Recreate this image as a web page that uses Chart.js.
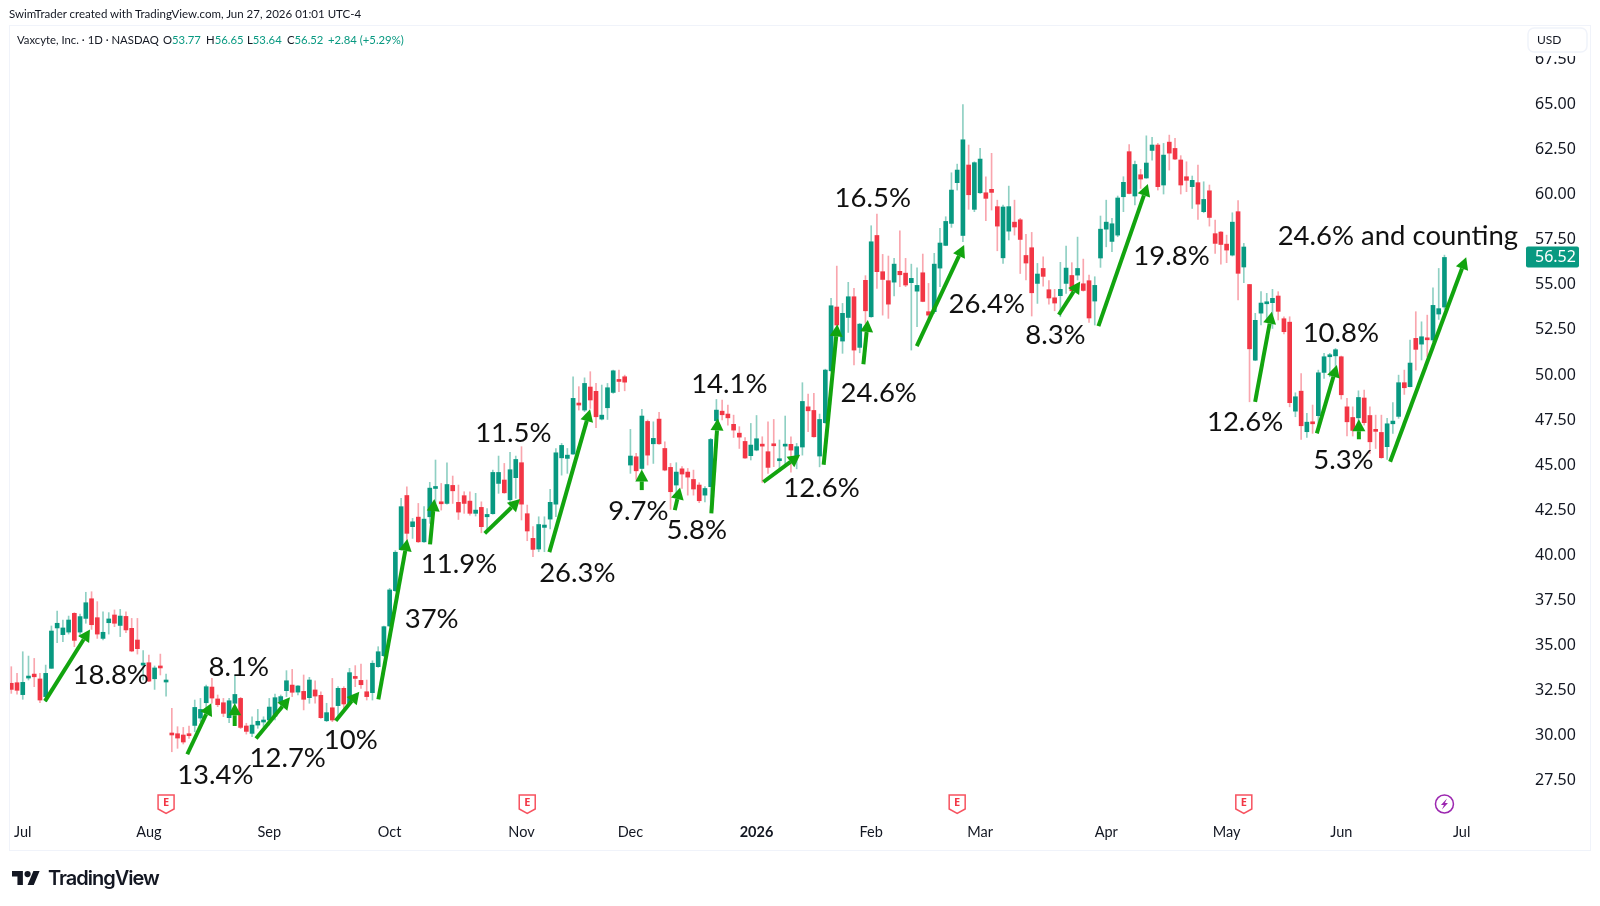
<!DOCTYPE html>
<html>
<head>
<meta charset="utf-8">
<title>Vaxcyte, Inc. daily</title>
<script src="https://cdn.jsdelivr.net/npm/chart.js@4"></script>
<style>
  html, body { margin: 0; padding: 0; background: #fff; }
  #wrap { position: relative; width: 1600px; height: 906px; overflow: hidden; }
  #priceChart { position: absolute; left: 0; top: 0; }
  .caption { position: absolute; left: 9px; top: 7px; font: 11.5px Lato, sans-serif; color: #131722; white-space: nowrap; }
  .legend { position: absolute; top: 33px; font: 11.3px Lato, sans-serif; color: #131722; white-space: nowrap; }
  .legend b { font-weight: 400; color: #089981; }
  .brand { position: absolute; left: 48px; top: 866px; font: 600 20px Inter, sans-serif; letter-spacing: -1px; color: #131722; }
  .brandLogo { position: absolute; left: 12px; top: 871px; }
</style>
</head>
<body>
<div id="wrap">
  <canvas id="priceChart" width="1600" height="906"></canvas>
  <div class="caption">SwimTrader created with TradingView.com, Jun 27, 2026 01:01 UTC-4</div>
  <div class="legend" style="left:17px">Vaxcyte, Inc. · 1D · NASDAQ</div>
  <div class="legend" style="left:163px">O<b>53.77</b></div>
  <div class="legend" style="left:206px">H<b>56.65</b></div>
  <div class="legend" style="left:247px">L<b>53.64</b></div>
  <div class="legend" style="left:287px">C<b>56.52</b></div>
  <div class="legend" style="left:328px"><b>+2.84 (+5.29%)</b></div>
  <svg class="brandLogo" width="28" height="14" viewBox="0 4 36 18"><path fill="#131722" d="M14 22H7V11H0V4h14v18zM28 22h-8l7.5-18h8L28 22z"/><circle fill="#131722" cx="20" cy="8" r="4"/></svg>
  <div class="brand">TradingView</div>
</div>
<script>
// daily candles, Jun 27 2025 - Jun 26 2026
const opens = [
  32.89,32.92,32.26,33.18,33.40,33.13,32.15,33.72,35.96,35.59,
  35.73,36.77,35.73,36.49,37.58,36.53,35.38,36.25,36.68,36.10,
  36.60,35.94,35.29,33.90,34.03,33.14,33.83,32.96,30.05,30.09,
  30.02,30.02,30.55,30.96,31.81,32.68,32.02,31.81,30.98,31.78,
  32.05,30.52,30.11,30.57,30.74,30.85,31.07,31.87,32.48,32.79,
  32.40,32.44,32.09,32.52,32.22,30.81,31.53,31.65,32.61,31.78,
  33.22,33.05,32.42,32.37,33.81,34.42,36.07,38.03,40.32,43.31,
  41.58,42.11,40.74,42.13,43.70,42.94,42.87,43.87,42.93,43.30,
  43.00,42.32,42.65,42.13,42.30,43.98,44.17,43.07,44.30,45.13,
  42.30,40.93,40.34,41.54,42.00,42.83,45.40,45.37,45.61,48.42,
  48.05,49.33,49.09,47.55,48.18,49.03,49.68,49.90,45.00,45.46,
  44.81,47.42,46.18,47.55,45.92,44.87,43.89,44.79,44.61,44.20,
  43.89,43.33,43.80,47.46,47.99,47.83,47.26,46.77,46.31,45.52,
  45.83,46.09,45.74,46.13,45.24,46.05,46.15,45.46,46.00,48.23,
  48.03,45.50,47.35,50.23,53.77,51.88,53.19,54.34,51.53,55.25,
  53.23,57.74,55.73,55.23,55.15,55.75,55.65,55.12,54.65,55.67,
  53.51,53.51,55.93,57.19,58.41,60.67,57.74,61.65,59.19,60.11,
  60.11,60.30,59.34,56.50,57.98,58.48,58.61,56.63,57.06,55.08,
  55.91,54.73,54.28,54.40,55.08,55.52,55.54,55.06,55.23,54.10,
  56.49,58.09,57.41,57.76,59.89,62.39,59.93,61.11,60.93,62.46,
  62.76,60.54,62.92,62.57,61.93,61.00,60.45,60.67,59.06,60.22,
  57.84,57.93,57.26,56.65,59.06,55.99,55.02,50.82,53.43,53.95,
  54.01,54.38,53.12,52.93,47.99,49.10,46.85,47.37,47.74,50.14,
  51.01,51.06,51.01,48.23,47.64,47.62,48.72,47.75,46.92,46.81,
  46.02,47.29,47.70,49.57,49.35,52.03,51.71,52.01,51.94,53.38,
  53.77
];
const highs = [
  33.81,33.44,34.64,34.40,34.27,33.44,33.90,36.07,36.90,36.40,
  36.62,36.81,36.73,37.94,37.97,37.42,36.86,36.81,36.96,36.99,
  36.86,36.49,36.49,34.70,34.46,33.85,34.51,33.40,31.50,30.48,
  30.44,30.52,31.96,32.05,32.79,33.16,32.24,32.05,32.05,33.35,
  32.11,30.67,31.03,31.44,31.03,32.05,32.29,32.24,33.59,33.66,
  32.76,33.35,33.22,33.03,32.42,31.78,33.16,32.70,32.70,33.72,
  33.87,33.96,33.07,34.14,34.92,36.07,38.16,40.25,43.15,43.79,
  42.04,42.87,42.69,44.04,45.28,43.98,45.13,44.39,43.89,43.52,
  43.52,43.43,42.96,42.59,44.72,45.50,45.09,45.70,45.50,46.02,
  42.78,41.58,42.13,42.13,43.65,45.92,46.20,45.92,49.90,49.35,
  49.84,50.18,49.53,49.44,49.53,50.27,50.27,49.99,46.98,45.65,
  48.09,47.50,47.40,47.92,46.29,45.09,45.13,44.91,44.81,44.72,
  44.02,43.80,46.48,48.64,48.61,48.33,47.77,47.13,46.53,47.31,
  47.75,46.57,47.40,47.53,46.39,47.72,46.57,46.20,49.57,48.94,
  48.98,47.83,50.32,54.25,56.04,53.97,55.14,54.80,52.86,55.51,
  58.28,58.93,56.69,56.60,56.47,58.00,56.47,56.15,55.95,56.71,
  55.08,56.75,58.13,58.78,61.22,61.70,65.00,62.76,61.83,62.57,
  61.00,62.30,59.70,59.43,60.48,59.70,58.69,57.80,57.91,56.19,
  56.56,55.23,54.75,56.25,57.15,56.23,57.65,56.43,55.54,55.45,
  58.82,59.70,58.69,59.93,61.00,62.79,61.87,61.41,63.27,63.18,
  62.85,62.85,63.31,63.13,62.17,61.83,61.04,61.65,60.72,60.54,
  58.60,57.95,57.76,59.00,59.67,57.30,55.02,53.42,54.62,54.53,
  54.75,54.62,53.23,53.23,49.01,50.08,47.87,48.33,50.27,51.20,
  51.20,51.47,51.05,48.70,48.23,49.12,49.16,48.23,47.77,47.77,
  47.59,48.46,49.99,50.27,51.93,53.51,52.95,53.32,54.84,55.91,
  56.65
];
const lows = [
  32.33,32.29,32.00,33.07,32.70,31.81,31.87,33.72,35.14,35.20,
  35.62,34.92,35.48,36.22,35.88,35.38,35.29,35.62,36.03,35.48,
  35.70,34.64,34.51,33.07,32.98,32.55,33.35,32.18,29.09,29.28,
  29.52,29.83,30.20,30.76,31.22,31.78,31.59,31.04,30.70,31.22,
  30.37,30.07,29.92,30.39,30.48,30.57,30.85,31.59,32.15,32.15,
  32.24,31.41,31.78,31.78,30.94,30.76,30.76,31.03,31.37,31.74,
  32.70,32.61,31.96,31.96,33.77,34.37,36.03,37.97,40.28,40.47,
  40.93,40.70,40.71,41.76,42.87,42.50,42.83,42.87,41.98,42.32,
  42.22,42.17,41.24,41.30,42.28,43.43,43.43,42.96,43.15,41.95,
  40.80,39.91,40.19,40.19,41.45,42.13,44.44,44.54,45.59,48.05,
  47.96,48.14,47.07,47.50,47.53,48.98,49.07,49.12,44.54,44.20,
  44.76,45.00,45.09,46.14,44.68,42.54,42.69,43.70,43.33,43.33,
  42.91,42.96,42.41,47.03,47.50,47.22,46.53,45.92,45.37,45.28,
  45.79,44.04,44.54,44.91,44.63,45.00,44.60,44.79,45.55,46.85,
  46.55,44.90,47.31,50.21,52.40,51.20,52.36,50.55,51.23,52.86,
  53.20,54.80,53.32,53.14,54.38,54.90,54.90,51.38,52.68,54.06,
  53.14,53.41,54.90,57.17,58.19,60.26,57.39,59.19,59.06,60.07,
  58.56,59.15,56.89,56.19,57.49,57.76,55.63,55.27,53.27,53.97,
  54.93,53.93,53.56,53.23,54.52,54.62,55.27,54.65,52.92,52.77,
  55.97,57.11,56.84,57.67,59.06,60.04,59.43,60.35,60.91,61.92,
  60.26,60.04,61.37,61.94,60.04,60.17,59.24,58.63,59.00,58.26,
  56.75,56.15,56.23,56.60,54.16,55.12,48.51,50.79,52.77,53.05,
  52.58,53.05,52.27,48.23,47.68,46.42,46.53,46.76,47.12,49.81,
  49.90,50.36,48.66,46.61,46.61,46.57,47.22,45.65,45.92,45.37,
  45.31,46.75,47.59,48.92,49.33,50.27,50.83,51.01,51.84,53.08,
  53.64
];
const closes = [
  32.55,32.50,32.94,33.29,33.25,31.96,33.44,35.79,36.22,35.96,
  36.40,35.27,36.59,37.36,36.14,35.62,35.72,36.46,36.22,36.62,
  35.85,34.68,34.81,34.00,33.01,33.74,33.74,33.00,30.02,29.85,
  29.63,29.98,31.55,31.44,32.70,32.07,31.70,31.22,31.92,32.27,
  30.44,30.22,30.57,30.78,30.79,31.57,32.09,32.15,33.03,32.39,
  32.74,32.00,33.07,32.18,30.98,31.26,30.85,32.61,31.74,33.48,
  33.16,32.81,32.15,34.00,34.64,36.03,38.07,40.16,42.69,41.21,
  41.85,40.74,42.00,43.72,43.79,42.85,43.92,43.57,42.39,42.87,
  42.32,42.50,41.58,42.26,44.59,44.59,43.46,44.74,45.31,42.83,
  41.34,40.32,41.70,41.67,42.93,45.68,46.09,45.55,48.70,48.33,
  49.53,48.61,47.68,47.77,49.29,50.23,49.64,49.60,45.50,44.68,
  47.72,45.55,46.48,46.18,44.72,43.52,44.61,44.50,44.33,43.67,
  43.02,43.70,46.42,48.05,47.79,47.62,46.94,46.55,45.39,46.11,
  46.46,46.05,44.87,46.07,45.33,46.11,45.83,46.02,48.53,48.01,
  46.57,47.53,50.27,53.84,52.77,53.42,54.34,51.38,52.82,53.56,
  57.39,55.73,55.30,53.93,56.15,55.56,54.99,55.36,54.97,54.08,
  53.32,56.15,57.32,58.52,60.26,61.37,63.05,60.00,61.78,61.98,
  59.80,60.13,58.26,59.32,59.34,58.21,57.52,56.21,54.56,55.60,
  55.47,54.27,53.99,54.75,55.93,54.67,55.91,54.69,53.16,54.97,
  58.09,58.48,58.39,59.82,60.69,60.07,61.68,60.87,61.76,62.76,
  60.45,62.20,62.31,61.98,60.54,60.80,60.80,59.48,59.74,58.74,
  57.30,57.24,56.93,58.48,55.64,57.10,51.45,53.03,53.99,54.03,
  54.25,53.53,52.40,48.46,48.79,47.18,47.38,47.29,50.12,51.01,
  51.08,51.40,48.90,47.40,46.92,48.75,47.35,46.29,46.87,45.41,
  47.29,47.44,49.57,49.29,50.66,51.42,52.12,51.95,53.86,53.68,
  56.52
];

// time axis: bar index of the first session of each month
const monthBars = [2, 24, 45, 66, 89, 108, 130, 150, 169, 191, 212, 232, 253];
const monthNames = ['Jul', 'Aug', 'Sep', 'Oct', 'Nov', 'Dec', '2026', 'Feb', 'Mar', 'Apr', 'May', 'Jun', 'Jul'];
const priceTicks = [27.5, 30, 32.5, 35, 37.5, 40, 42.5, 45, 47.5, 50, 52.5, 55, 57.5, 60, 62.5, 65, 67.5];

const earningsBars = [27, 90, 165, 215];
const dividendBars = [250];
const lastPrice = 56.52;

// swing arrows: [barFrom, priceFrom, barTo, priceTo]
const swingArrows = [
  [5.88, 31.90, 13.73, 35.88], [30.70, 28.95, 34.89, 31.78], [38.97, 30.52, 38.97, 31.78],
  [42.69, 29.83, 48.62, 32.11], [56.59, 30.81, 60.71, 32.42], [64.03, 32.00, 69.09, 40.89],
  [73.05, 40.60, 73.80, 43.11], [82.59, 41.21, 88.75, 43.11], [93.86, 40.17, 100.96, 48.09],
  [109.98, 43.61, 109.98, 44.76], [115.74, 42.50, 116.66, 43.76], [122.12, 42.32, 123.24, 47.59],
  [131.19, 44.06, 137.60, 45.57], [141.71, 45.02, 144.10, 52.81], [148.64, 50.59, 149.41, 53.05],
  [157.95, 51.60, 166.21, 57.21], [182.73, 53.34, 186.45, 55.19], [189.64, 52.71, 198.26, 60.59],
  [216.97, 48.51, 219.89, 53.51], [227.74, 46.76, 231.23, 50.55], [235.07, 46.43, 235.07, 47.54],
  [240.53, 45.18, 253.79, 56.53]
];

// swing labels: centre bar, centre price, text
const swingLabelBars = [17.34, 39.67, 35.59, 48.22, 59.21, 73.33, 78.10, 87.58, 98.74, 109.39, 119.57, 125.26, 141.33, 150.28, 151.31, 170.16, 182.14, 202.39, 215.23, 231.93, 232.38, 241.87];
const swingLabelPrices = [33.35, 33.81, 27.78, 28.74, 29.74, 36.43, 39.51, 46.76, 38.99, 42.43, 41.38, 49.49, 43.73, 59.80, 49.00, 53.93, 52.21, 56.60, 47.40, 52.31, 45.28, 57.72];
const swingLabelTexts = ['18.8%', '8.1%', '13.4%', '12.7%', '10%', '37%', '11.9%', '11.5%', '26.3%', '9.7%', '5.8%', '14.1%', '12.6%', '16.5%', '24.6%', '26.4%', '8.3%', '19.8%', '12.6%', '10.8%', '5.3%', '24.6% and counting'];

const UP = '#089981';
const DOWN = '#F23645';
const UP_WICK = '#8fd0c3';
const DOWN_WICK = '#f9a6ae';
const ARROW = '#12a40f';

function isUp(i) { return closes[i] >= opens[i]; }

function drawArrow(ctx, x0, y0, x1, y1) {
  const ang = Math.atan2(y1 - y0, x1 - x0);
  const headLen = 12, headHalf = 6.5;
  const bx = x1 - headLen * Math.cos(ang), by = y1 - headLen * Math.sin(ang);
  ctx.strokeStyle = ARROW;
  ctx.fillStyle = ARROW;
  ctx.lineWidth = 4;
  ctx.beginPath();
  ctx.moveTo(x0, y0);
  ctx.lineTo(bx, by);
  ctx.stroke();
  ctx.beginPath();
  ctx.moveTo(x1, y1);
  ctx.lineTo(bx - headHalf * Math.sin(ang), by + headHalf * Math.cos(ang));
  ctx.lineTo(bx + headHalf * Math.sin(ang), by - headHalf * Math.cos(ang));
  ctx.closePath();
  ctx.fill();
}

function drawEarnings(ctx, x, y) {
  ctx.beginPath();
  ctx.moveTo(x - 8, y - 9);
  ctx.lineTo(x + 8, y - 9);
  ctx.lineTo(x + 8, y + 5);
  ctx.lineTo(x, y + 9.5);
  ctx.lineTo(x - 8, y + 5);
  ctx.closePath();
  ctx.fillStyle = '#fff';
  ctx.fill();
  ctx.strokeStyle = '#f7525f';
  ctx.lineWidth = 1.5;
  ctx.stroke();
  ctx.fillStyle = '#f23645';
  ctx.font = '700 11px "Noto Sans"';
  ctx.textAlign = 'center';
  ctx.textBaseline = 'middle';
  ctx.fillText('E', x, y - 1);
}

function drawDividend(ctx, x, y) {
  ctx.beginPath();
  ctx.arc(x, y, 9, 0, Math.PI * 2);
  ctx.fillStyle = '#fff';
  ctx.fill();
  ctx.strokeStyle = '#9c27b0';
  ctx.lineWidth = 1.5;
  ctx.stroke();
  ctx.beginPath();
  ctx.moveTo(x + 2.5, y - 5.5);
  ctx.lineTo(x - 3.5, y + 1);
  ctx.lineTo(x - 0.5, y + 1);
  ctx.lineTo(x - 2.5, y + 5.5);
  ctx.lineTo(x + 3.5, y - 1);
  ctx.lineTo(x + 0.5, y - 1);
  ctx.closePath();
  ctx.fillStyle = '#9c27b0';
  ctx.fill();
}

const overlays = {
  id: 'overlays',
  afterDraw(chart) {
    const { ctx, chartArea, scales: { x, y } } = chart;
    ctx.save();

    // outer frame
    ctx.strokeStyle = '#f0f3fa';
    ctx.lineWidth = 1;
    ctx.strokeRect(chartArea.left + 0.5, chartArea.top + 0.5, chart.width - 10 - chartArea.left, 850 - chartArea.top);

    swingArrows.forEach(a => {
      drawArrow(ctx, x.getPixelForValue(a[0]), y.getPixelForValue(a[1]), x.getPixelForValue(a[2]), y.getPixelForValue(a[3]));
    });

    ctx.fillStyle = '#111';
    ctx.font = '27.5px Lato';
    ctx.textAlign = 'center';
    ctx.textBaseline = 'middle';
    swingLabelTexts.forEach((t, i) => {
      ctx.fillText(t, x.getPixelForValue(swingLabelBars[i]), y.getPixelForValue(swingLabelPrices[i]));
    });

    const markerY = chartArea.bottom - 11;
    earningsBars.forEach(b => drawEarnings(ctx, x.getPixelForValue(b), markerY));
    dividendBars.forEach(b => drawDividend(ctx, x.getPixelForValue(b), markerY));

    // last price tag
    const tagY = y.getPixelForValue(lastPrice);
    ctx.fillStyle = UP;
    ctx.beginPath();
    ctx.roundRect(chartArea.right - 1, tagY - 11, 53, 21, 2);
    ctx.fill();
    ctx.fillStyle = '#fff';
    ctx.font = '16px "Noto Sans"';
    ctx.textAlign = 'left';
    ctx.fillText(lastPrice.toFixed(2), chartArea.right + 8, tagY);

    // currency box sits over the top of the axis and hides part of the top tick
    ctx.fillStyle = '#fff';
    ctx.fillRect(chartArea.right + 1, 28, 59, 28);
    ctx.beginPath();
    ctx.roundRect(chartArea.right + 1, 28, 59, 24, 6);
    ctx.strokeStyle = '#f0f3fa';
    ctx.stroke();
    ctx.fillStyle = '#131722';
    ctx.font = '12px Lato';
    ctx.fillText('USD', chartArea.right + 10, 40);

    ctx.restore();
  }
};

new Chart(document.getElementById('priceChart'), {
  type: 'bar',
  data: {
    datasets: [
      {
        label: 'body',
        data: opens.map((o, i) => ({ x: i, y: [o, closes[i]] })),
        backgroundColor: opens.map((o, i) => isUp(i) ? UP : DOWN),
        barThickness: 4,
        minBarLength: 2
      },
      {
        label: 'wick',
        data: opens.map((o, i) => ({ x: i, y: [lows[i], highs[i]] })),
        backgroundColor: opens.map((o, i) => isUp(i) ? UP_WICK : DOWN_WICK),
        barThickness: 1
      }
    ]
  },
  options: {
    responsive: false,
    animation: false,
    layout: { padding: { left: 9, top: 25, right: 10, bottom: 56 } },
    datasets: { bar: { grouped: false } },
    plugins: { legend: { display: false }, tooltip: { enabled: false } },
    scales: {
      x: {
        type: 'linear',
        offset: false,
        min: -0.40,
        max: 264.4,
        border: { display: false },
        grid: { display: false, drawTicks: false },
        afterBuildTicks(scale) { scale.ticks = monthBars.map(v => ({ value: v })); },
        afterFit(scale) { scale.height = 35; },
        ticks: {
          autoSkip: false,
          maxRotation: 0,
          padding: 9,
          color: '#131722',
          font: ctx => ({ family: 'Lato', size: 14.5, weight: ctx.tick && ctx.tick.value === 130 ? '700' : '400' }),
          callback: v => monthNames[monthBars.indexOf(v)]
        }
      },
      y: {
        position: 'right',
        min: 25.58,
        max: 69.42,
        border: { display: false },
        grid: { display: false, drawTicks: false },
        afterBuildTicks(scale) { scale.ticks = priceTicks.map(v => ({ value: v })); },
        afterFit(scale) { scale.width = 63; },
        ticks: {
          autoSkip: false,
          padding: 8,
          color: '#131722',
          font: { family: '"Noto Sans"', size: 16 },
          callback: v => v.toFixed(2)
        }
      }
    }
  },
  plugins: [overlays]
});
</script>
</body>
</html>
